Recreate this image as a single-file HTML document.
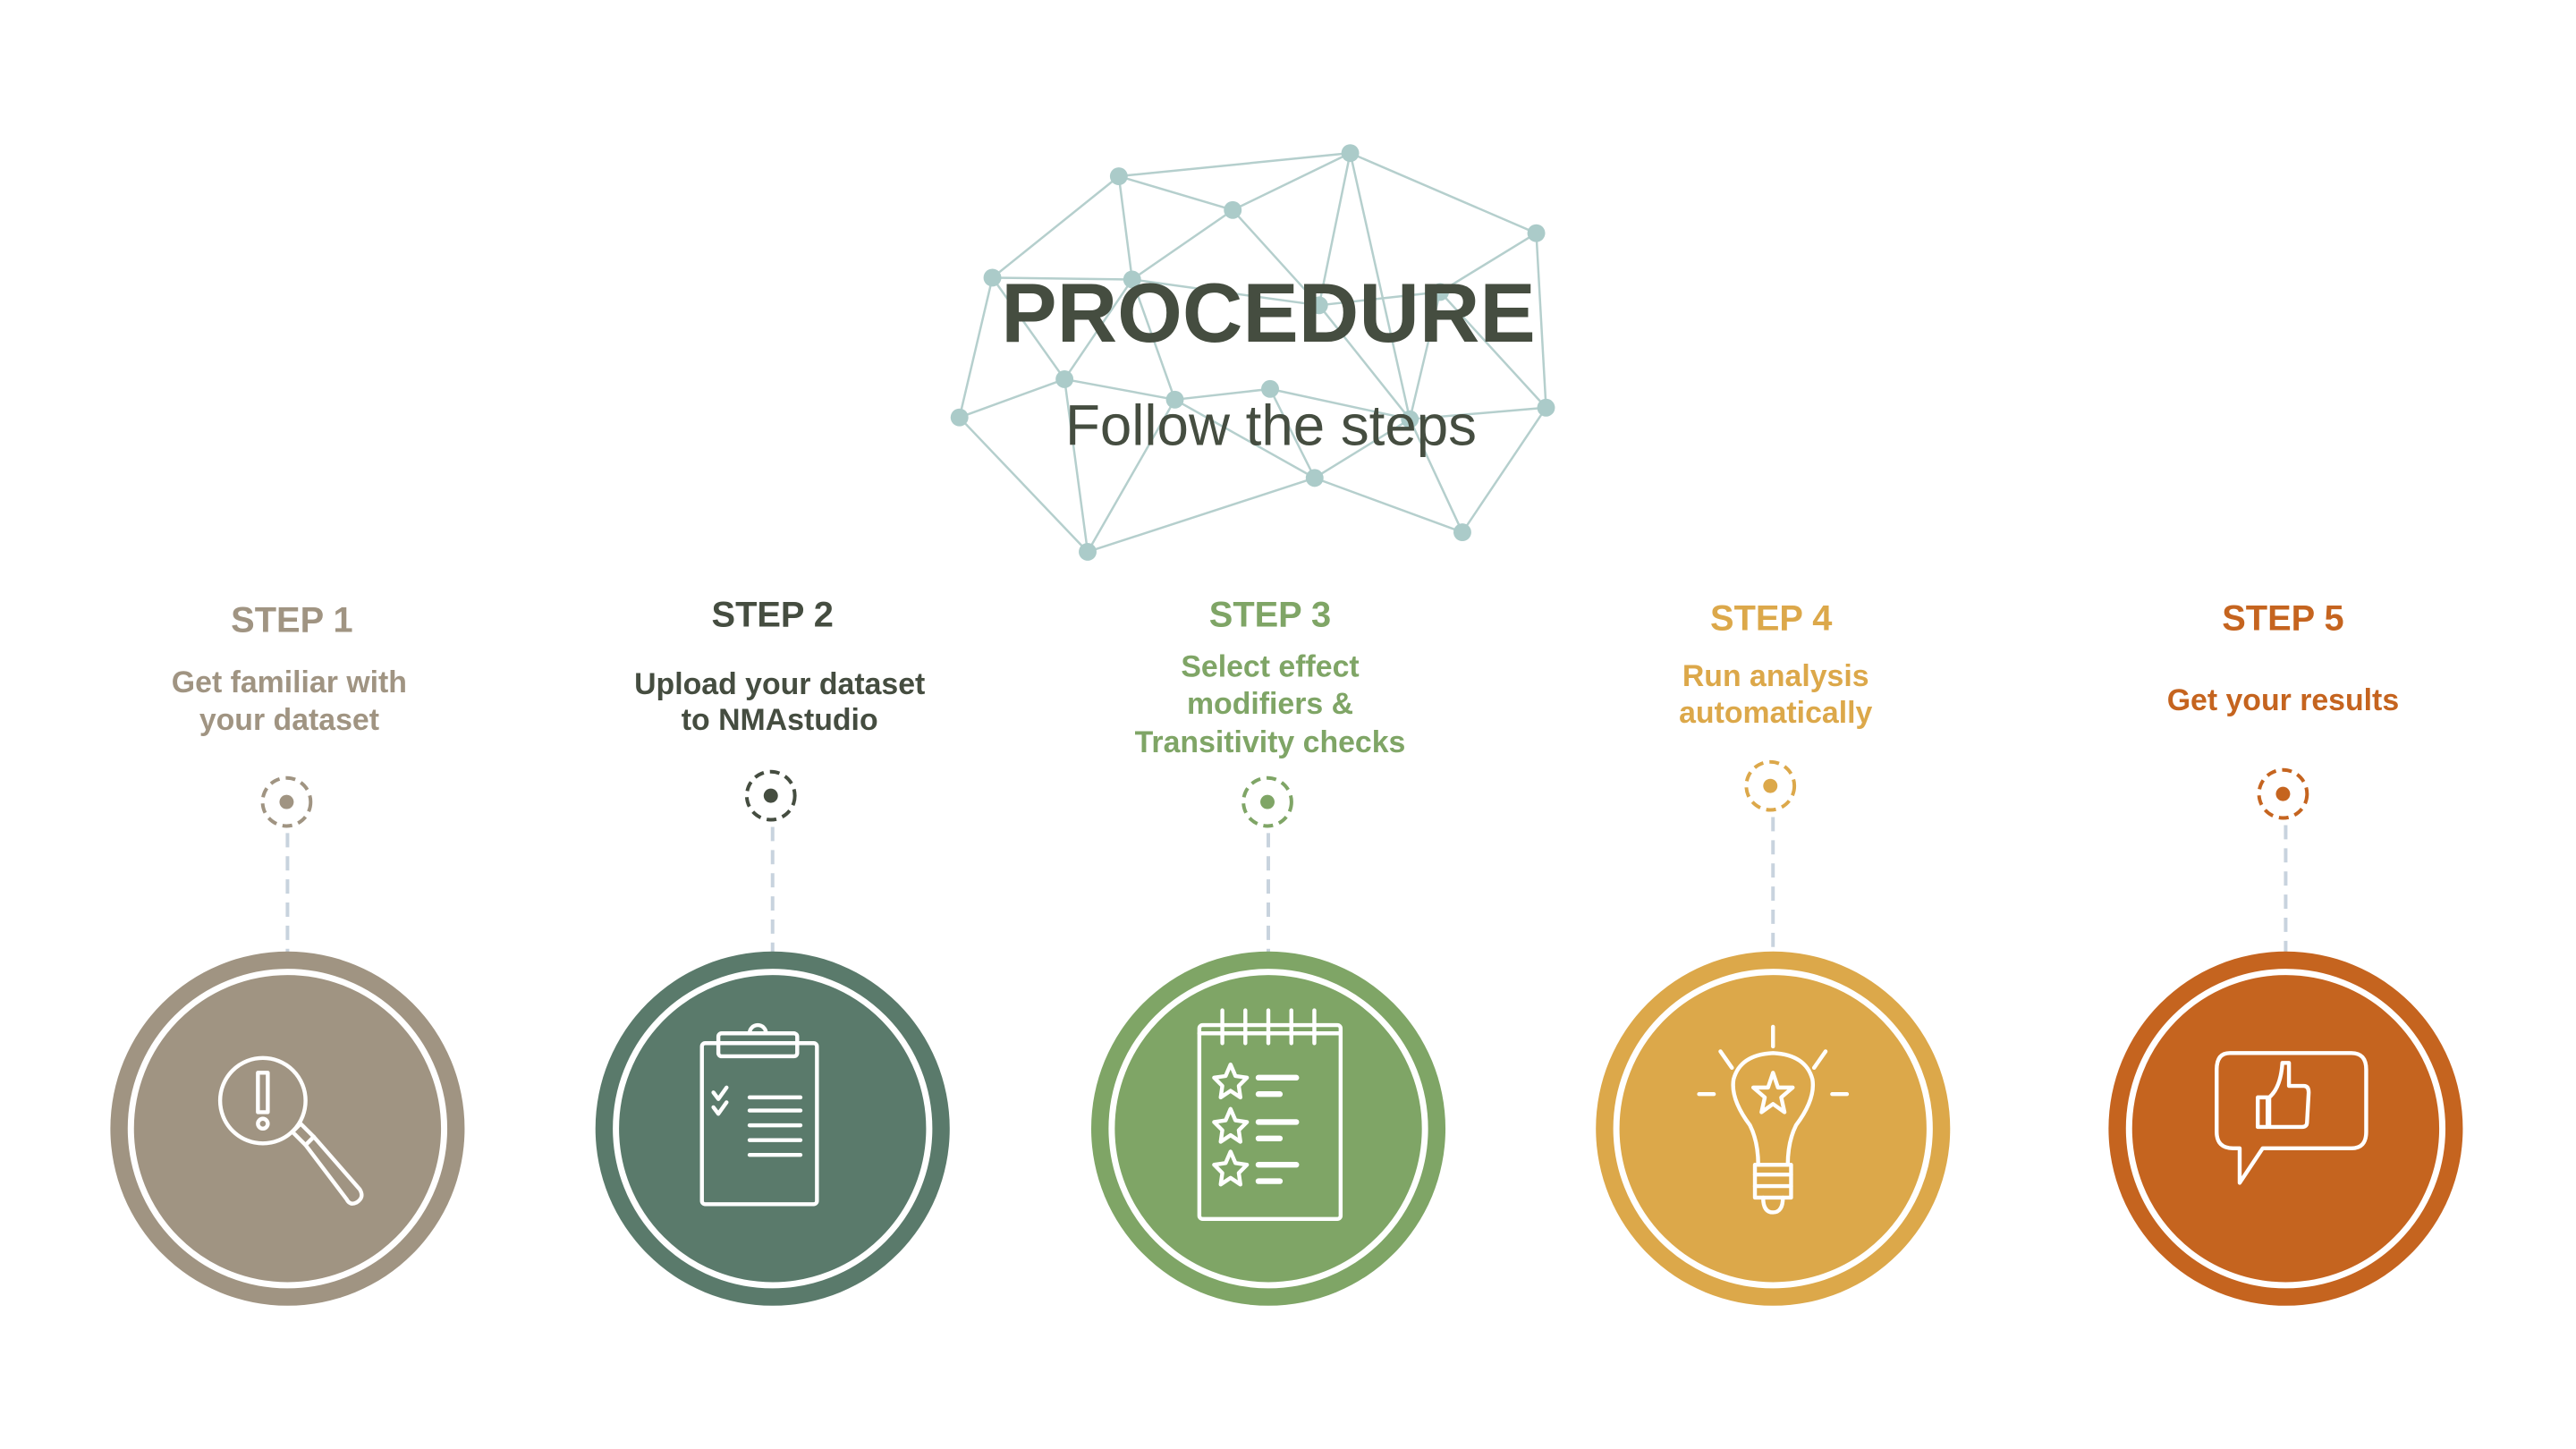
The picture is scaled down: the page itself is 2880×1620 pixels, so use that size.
<!DOCTYPE html>
<html><head><meta charset="utf-8"><style>
html,body{margin:0;padding:0;background:#fff;}
svg{display:block}
text{font-family:"Liberation Sans",sans-serif;}
</style></head><body>
<svg width="2880" height="1620" viewBox="0 0 2880 1620" xmlns="http://www.w3.org/2000/svg">
<g transform="scale(0.9951)">
<g stroke="#b5cfcd" stroke-width="2.5" fill="none">
<path d="M1257 198L1517 172M1257 198L1385 236M1517 172L1385 236M1257 198L1115 312M1257 198L1272 314M1385 236L1272 314M1385 236L1482 343M1517 172L1482 343M1517 172L1584 471M1517 172L1726 262M1726 262L1618 328M1726 262L1737 458M1115 312L1272 314M1272 314L1482 343M1482 343L1618 328M1115 312L1078 469M1115 312L1196 426M1272 314L1196 426M1272 314L1320 449M1196 426L1320 449M1320 449L1427 437M1078 469L1196 426M1078 469L1222 620M1196 426L1222 620M1320 449L1222 620M1320 449L1477 537M1427 437L1477 537M1427 437L1584 471M1482 343L1584 471M1618 328L1584 471M1584 471L1737 458M1618 328L1737 458M1477 537L1584 471M1222 620L1477 537M1477 537L1643 598M1584 471L1643 598M1643 598L1737 458"/>
</g>
<g fill="#abcbc9">
<circle cx="1257" cy="198" r="10"/><circle cx="1517" cy="172" r="10"/><circle cx="1385" cy="236" r="10"/><circle cx="1726" cy="262" r="10"/><circle cx="1115" cy="312" r="10"/><circle cx="1272" cy="314" r="10"/><circle cx="1482" cy="343" r="10"/><circle cx="1618" cy="328" r="10"/><circle cx="1196" cy="426" r="10"/><circle cx="1320" cy="449" r="10"/><circle cx="1427" cy="437" r="10"/><circle cx="1584" cy="471" r="10"/><circle cx="1737" cy="458" r="10"/><circle cx="1078" cy="469" r="10"/><circle cx="1477" cy="537" r="10"/><circle cx="1222" cy="620" r="10"/><circle cx="1643" cy="598" r="10"/>
</g>
<text x="1425" y="384" text-anchor="middle" font-size="94" font-weight="bold" fill="#454d40">PROCEDURE</text>
<text x="1428" y="500" text-anchor="middle" font-size="64" fill="#454d40">Follow the steps</text>

<g text-anchor="middle" font-weight="bold">
<text x="328" y="710" font-size="40" fill="#a09482">STEP 1</text>
<text x="325" y="778" font-size="34" fill="#a09482">Get familiar with</text>
<text x="325" y="820" font-size="34" fill="#a09482">your dataset</text>
<text x="868" y="704" font-size="40" fill="#454d40">STEP 2</text>
<text x="876" y="780" font-size="34" fill="#454d40">Upload your dataset</text>
<text x="876" y="820" font-size="34" fill="#454d40">to NMAstudio</text>
<text x="1427" y="704" font-size="40" fill="#7fa566">STEP 3</text>
<text x="1427" y="760" font-size="34" fill="#7fa566">Select effect</text>
<text x="1427" y="802" font-size="34" fill="#7fa566">modifiers &amp;</text>
<text x="1427" y="845" font-size="34" fill="#7fa566">Transitivity checks</text>
<text x="1990" y="708" font-size="40" fill="#dca84a">STEP 4</text>
<text x="1995" y="771" font-size="34" fill="#dca84a">Run analysis</text>
<text x="1995" y="812" font-size="34" fill="#dca84a">automatically</text>
<text x="2565" y="708" font-size="40" fill="#c5641f">STEP 5</text>
<text x="2565" y="798" font-size="34" fill="#c5641f">Get your results</text>
</g>

<g fill="none" stroke-width="4" stroke-dasharray="11 7">
<circle cx="322" cy="901" r="27" stroke="#a09482"/>
<circle cx="866" cy="894" r="27" stroke="#454d40"/>
<circle cx="1424" cy="901" r="27" stroke="#7fa566"/>
<circle cx="1989" cy="883" r="27" stroke="#dca84a"/>
<circle cx="2565" cy="892" r="27" stroke="#c5641f"/>
</g>
<circle cx="322" cy="901" r="8" fill="#a09482"/>
<circle cx="866" cy="894" r="8" fill="#454d40"/>
<circle cx="1424" cy="901" r="8" fill="#7fa566"/>
<circle cx="1989" cy="883" r="8" fill="#dca84a"/>
<circle cx="2565" cy="892" r="8" fill="#c5641f"/>
<g stroke="#c8d3de" stroke-width="4" stroke-dasharray="16 10">
<path d="M323 936V1070M868 929V1070M1425 936V1070M1992 918V1070M2568 927V1070"/>
</g>

<g>
<circle cx="323" cy="1268" r="199" fill="#a09482"/><circle cx="323" cy="1268" r="176" fill="none" stroke="#fff" stroke-width="7"/>
<circle cx="868" cy="1268" r="199" fill="#5a7a6b"/><circle cx="868" cy="1268" r="176" fill="none" stroke="#fff" stroke-width="7"/>
<circle cx="1425" cy="1268" r="199" fill="#7fa566"/><circle cx="1425" cy="1268" r="176" fill="none" stroke="#fff" stroke-width="7"/>
<circle cx="1992" cy="1268" r="199" fill="#dca84a"/><circle cx="1992" cy="1268" r="176" fill="none" stroke="#fff" stroke-width="7"/>
<circle cx="2568" cy="1268" r="199" fill="#c5641f"/><circle cx="2568" cy="1268" r="176" fill="none" stroke="#fff" stroke-width="7"/>
</g>

<g fill="none" stroke="#fff" stroke-width="2.4" stroke-linecap="round" stroke-linejoin="round">
<g transform="translate(323,1268) scale(1.846)">
<circle cx="-15" cy="-17" r="26"/>
<path d="M3 2L8 -3L16 5L11 10Z"/>
<path d="M11 10L16 5L44 37Q47 42 42 45Q38 47 36 43Z"/>
<path d="M-18 -34L-12 -34L-12 -10L-18 -10Z"/>
<circle cx="-15" cy="-3" r="3"/>
</g>
<g transform="translate(868,1268) scale(1.846)">
<rect x="-43" y="-52" width="70" height="98" rx="2"/>
<rect x="-33" y="-58" width="48" height="14" rx="2"/>
<path d="M-14 -58A5 5 0 0 1 -4 -58"/>
<path d="M-36 -22L-33 -18L-28 -25M-36 -13L-33 -9L-28 -16"/>
<path d="M-14 -19H17M-14 -11H17M-14 -2H17M-14 7H17M-14 16H17"/>
</g>
<g transform="translate(1425,1268) scale(1.846)">
<rect x="-42" y="-63" width="86" height="118" rx="2"/>
<path d="M-42 -58H44M-28 -72V-52M-14 -72V-52M0 -72V-52M14 -72V-52M28 -72V-52"/>
<path d="M-23 -39L-20 -32L-13 -31L-18 -26L-17 -19L-23 -23L-29 -19L-28 -26L-33 -31L-26 -32Z"/>
<path d="M-23 -39L-20 -32L-13 -31L-18 -26L-17 -19L-23 -23L-29 -19L-28 -26L-33 -31L-26 -32Z" transform="translate(0,27)"/>
<path d="M-23 -39L-20 -32L-13 -31L-18 -26L-17 -19L-23 -23L-29 -19L-28 -26L-33 -31L-26 -32Z" transform="translate(0,53)"/>
<path d="M-6 -31H17M-6 -21H7M-6 -4H17M-6 6H7M-6 22H17M-6 32H7" stroke-width="3.5"/>
</g>
<g transform="translate(1992,1268) scale(1.846)">
<path d="M0 -62V-50M-32 -47L-25 -37M32 -47L25 -37M-45 -21H-36M36 -21H45"/>
<path d="M-9 22Q-9 8 -14 -2Q-26 -18 -24 -30Q-20 -45 0 -46Q20 -45 24 -30Q26 -18 14 -2Q9 8 9 22Z"/>
<path d="M-11 22H11V42H-11Z"/>
<path d="M-11 28H11M-11 35H11"/>
<path d="M-6 42Q-6 51 0 51Q6 51 6 42"/>
<path d="M0 -34L3 -25L12 -25L5 -19L7 -10L0 -15L-7 -10L-5 -19L-12 -25L-3 -25Z"/>
</g>
<g transform="translate(2568,1268) scale(1.846)">
<path d="M-34 -46H40Q49 -46 49 -36V2Q49 12 40 12H-14L-28 33V12H-32Q-42 12 -42 2V-36Q-42 -46 -34 -46Z"/>
<rect x="-17" y="-19" width="6" height="18"/>
<path d="M-10 -19Q-3 -25 -2 -40H2V-26H11Q14 -26 14 -22L13 -4Q13 -1 10 -1H-10Z"/>
</g>
</g>
</g>
</svg>
</body></html>
